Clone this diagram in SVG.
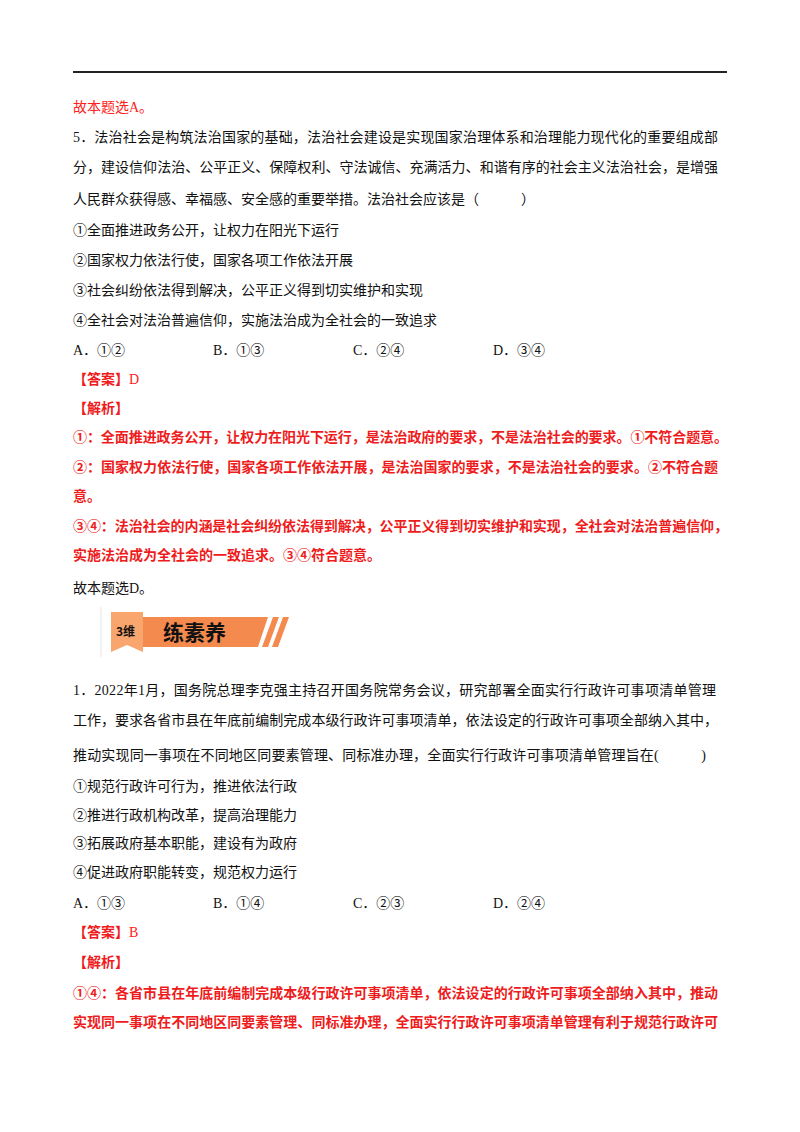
<svg xmlns="http://www.w3.org/2000/svg" width="800" height="1132" viewBox="0 0 800 1132">
<style>
text{font-family:"Liberation Serif","Noto Sans CJK SC",serif;font-size:14px;fill:#111}
.r{fill:#ff2020}
.rb{fill:#ee1c1c;font-weight:bold}
</style>
<rect width="800" height="1132" fill="#fff"/>
<line x1="73" y1="72" x2="727" y2="72" stroke="#222" stroke-width="2"/>
<text x="73" y="112" class="r">故本题选A。</text>
<text x="73" y="142" textLength="645">5．法治社会是构筑法治国家的基础，法治社会建设是实现国家治理体系和治理能力现代化的重要组成部</text>
<text x="73" y="172" textLength="645">分，建设信仰法治、公平正义、保障权利、守法诚信、充满活力、和谐有序的社会主义法治社会，是增强</text>
<text x="73" y="204">人民群众获得感、幸福感、安全感的重要举措。法治社会应该是（　　　）</text>
<text x="73" y="235">①全面推进政务公开，让权力在阳光下运行</text>
<text x="73" y="265">②国家权力依法行使，国家各项工作依法开展</text>
<text x="73" y="295">③社会纠纷依法得到解决，公平正义得到切实维护和实现</text>
<text x="73" y="325">④全社会对法治普遍信仰，实施法治成为全社会的一致追求</text>
<text x="73" y="355">A．①②</text><text x="213" y="355">B．①③</text><text x="353" y="355">C．②④</text><text x="493" y="355">D．③④</text>
<text x="73" y="384"><tspan class="rb">【答案】</tspan><tspan class="r">D</tspan></text>
<text x="73" y="413" class="rb">【解析】</text>
<text x="73" y="442" class="rb" textLength="655">①：全面推进政务公开，让权力在阳光下运行，是法治政府的要求，不是法治社会的要求。①不符合题意。</text>
<text x="73" y="472" class="rb" textLength="645">②：国家权力依法行使，国家各项工作依法开展，是法治国家的要求，不是法治社会的要求。②不符合题</text>
<text x="73" y="501" class="rb">意。</text>
<text x="73" y="531" class="rb" textLength="655">③④：法治社会的内涵是社会纠纷依法得到解决，公平正义得到切实维护和实现，全社会对法治普遍信仰，</text>
<text x="73" y="560" class="rb">实施法治成为全社会的一致追求。③④符合题意。</text>
<text x="73" y="593">故本题选D。</text>
<g id="banner">
<line x1="101" y1="607" x2="101" y2="657" stroke="#eee" stroke-width="1.5"/>
<path d="M142 617 L268 617 L258 647 L142 647 Z" fill="#f58a4e"/>
<path d="M111 612 L143 612 L143 652 L127 645 L111 652 Z" fill="#f9a56e"/>
<polygon points="273,617 279,617 268,647 262,647" fill="#f58a4e"/>
<polygon points="283,617 289,617 278,647 272,647" fill="#f58a4e"/>
<text x="116" y="636" style="font-family:'Noto Sans CJK SC',sans-serif;font-size:12px;font-weight:bold">3维</text>
<text x="163" y="640" style="font-family:'Noto Sans CJK SC',sans-serif;font-size:21px;font-weight:bold">练素养</text>
</g>
<text x="73" y="695" textLength="643">1．2022年1月，国务院总理李克强主持召开国务院常务会议，研究部署全面实行行政许可事项清单管理</text>
<text x="73" y="725" textLength="645">工作，要求各省市县在年底前编制完成本级行政许可事项清单，依法设定的行政许可事项全部纳入其中，</text>
<text x="73" y="760" textLength="633">推动实现同一事项在不同地区同要素管理、同标准办理，全面实行行政许可事项清单管理旨在(　　　)</text>
<text x="73" y="791">①规范行政许可行为，推进依法行政</text>
<text x="73" y="820">②推进行政机构改革，提高治理能力</text>
<text x="73" y="848">③拓展政府基本职能，建设有为政府</text>
<text x="73" y="877">④促进政府职能转变，规范权力运行</text>
<text x="73" y="908">A．①③</text><text x="213" y="908">B．①④</text><text x="353" y="908">C．②③</text><text x="493" y="908">D．②④</text>
<text x="73" y="937"><tspan class="rb">【答案】</tspan><tspan class="r">B</tspan></text>
<text x="73" y="967" class="rb">【解析】</text>
<text x="73" y="998" class="rb" textLength="645">①④：各省市县在年底前编制完成本级行政许可事项清单，依法设定的行政许可事项全部纳入其中，推动</text>
<text x="73" y="1027" class="rb" textLength="645">实现同一事项在不同地区同要素管理、同标准办理，全面实行行政许可事项清单管理有利于规范行政许可</text>
</svg>
